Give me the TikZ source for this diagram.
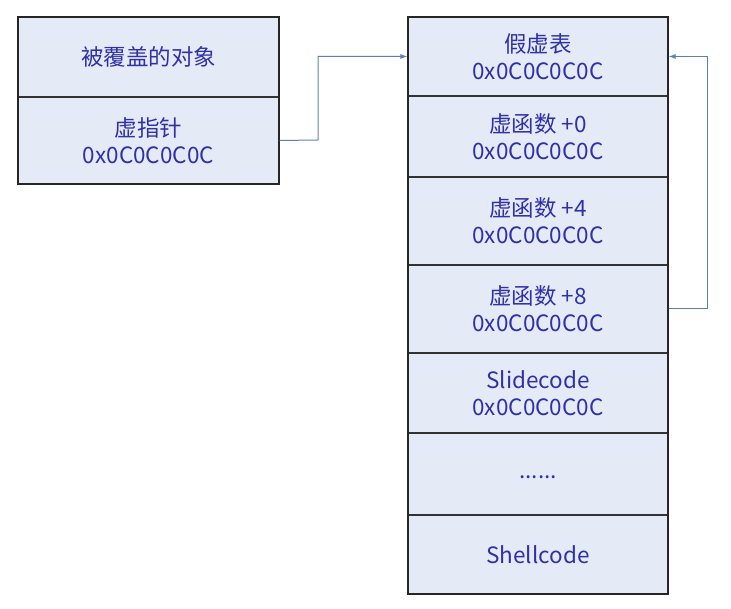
\documentclass[tikz,border=0pt]{standalone}
\usepackage{fontspec}
\setmainfont{Noto Sans CJK SC}
\usetikzlibrary{arrows.meta}
\definecolor{cellfill}{HTML}{E5EBF6}
\definecolor{celltext}{HTML}{3030A8}
\definecolor{cellline}{HTML}{333333}
\definecolor{arrowcol}{HTML}{5A82B0}
\begin{document}
\begin{tikzpicture}[x=1pt,y=-1pt,
  cell/.style={draw=cellline,line width=1.2pt,fill=cellfill,text=celltext,
    inner sep=0pt,align=center,font=\fontsize{22.5}{27}\selectfont},
  outer/.style={draw=black!85,line width=2.6pt},
  link/.style={draw=arrowcol,line width=1pt,-{Latex[length=7pt,width=5pt]}}]
\useasboundingbox (0,0) rectangle (731,609);
% left object
\node[cell,minimum width=261pt,minimum height=80pt] (o1) at (148.5,57) {被覆盖的对象};
\node[cell,minimum width=261pt,minimum height=87pt] (o2) at (148.5,140.5) {虚指针\\0x0C0C0C0C};
\draw[outer] (18,17) rectangle (279,184);
% fake vtable
\node[cell,minimum width=260pt,minimum height=79pt] (v0) at (538,56.5) {假虚表\\0x0C0C0C0C};
\node[cell,minimum width=260pt,minimum height=81pt] (v1) at (538,136.5) {虚函数 +0\\0x0C0C0C0C};
\node[cell,minimum width=260pt,minimum height=88pt] (v2) at (538,221) {虚函数 +4\\0x0C0C0C0C};
\node[cell,minimum width=260pt,minimum height=88pt] (v3) at (538,309) {虚函数 +8\\0x0C0C0C0C};
\node[cell,minimum width=260pt,minimum height=80pt] (v4) at (538,393) {Slidecode\\0x0C0C0C0C};
\node[cell,minimum width=260pt,minimum height=81pt] (v5) at (538,474) {\raisebox{-4pt}[0pt][0pt]{......}};
\node[cell,minimum width=260pt,minimum height=79pt] (v6) at (538,554.5) {Shellcode};
\draw[outer] (408,17) rectangle (668,594);
% connectors
\coordinate (c1) at (318,140);
\coordinate (c2) at (707,309);
\draw[link] (o2.east) -- (c1) |- (v0.west);
\draw[link] (v3.east) -- (c2) |- (v0.east);
\end{tikzpicture}
\end{document}
